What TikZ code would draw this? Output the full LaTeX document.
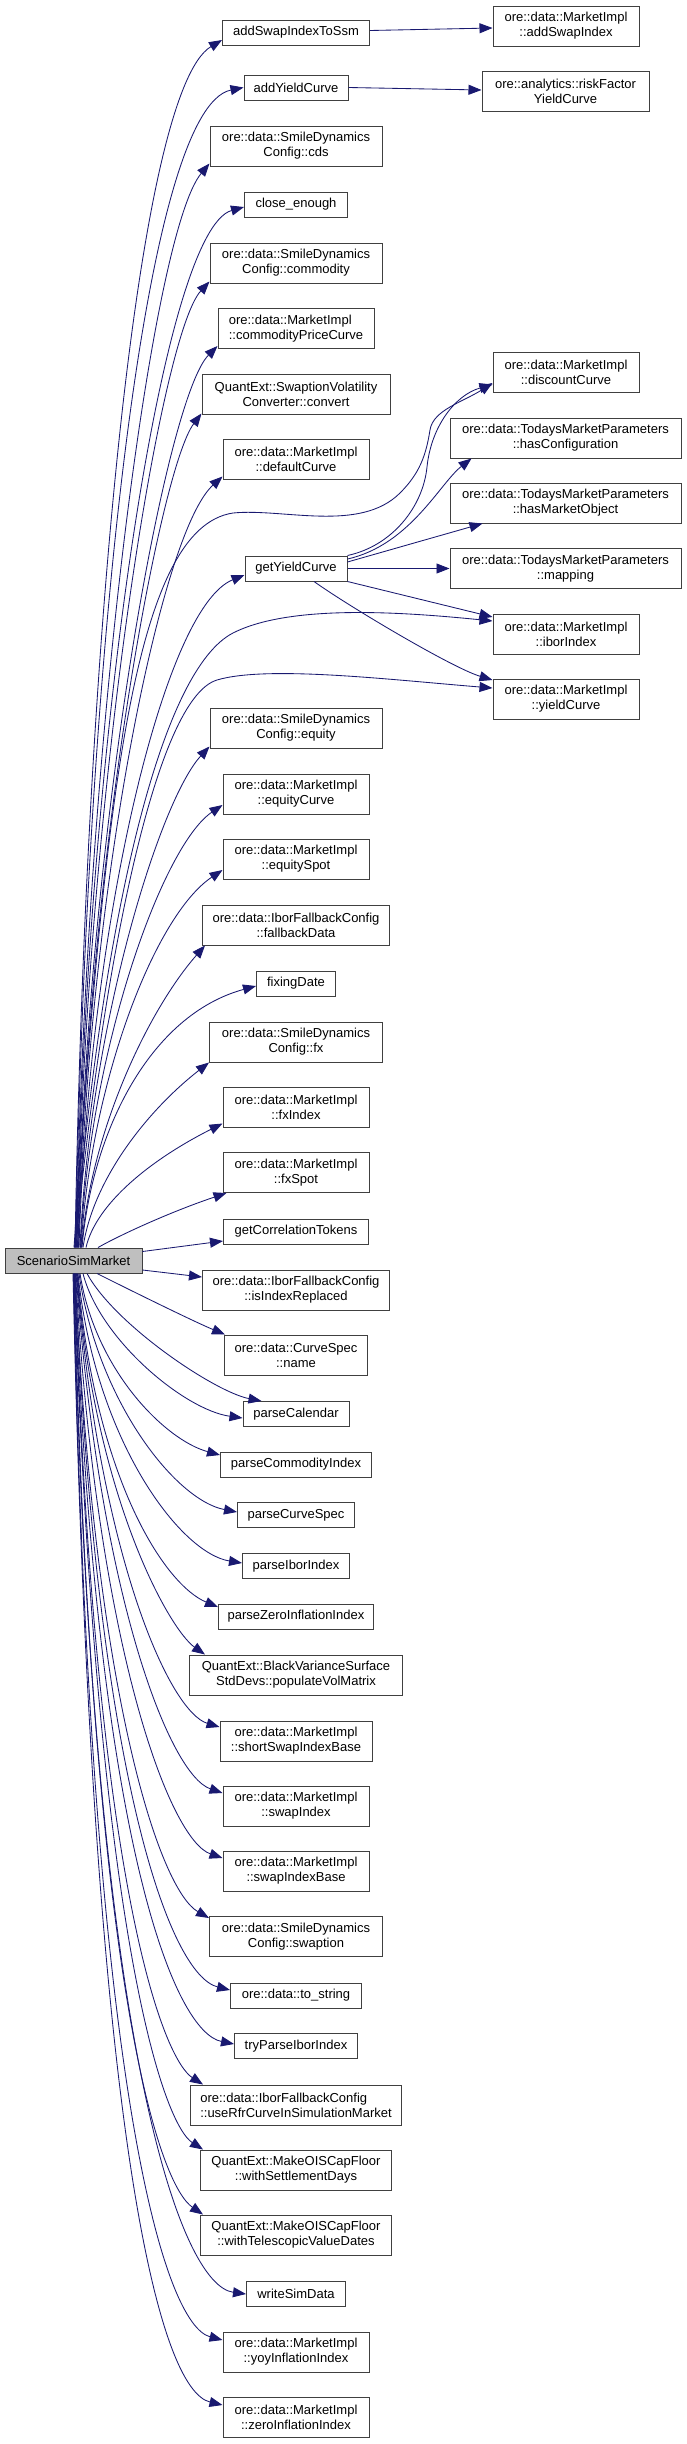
\documentclass[tikz,border=0pt]{standalone}
\usepackage{fontspec}
\setmainfont{Liberation Sans}
\usetikzlibrary{arrows.meta}
\definecolor{edgec}{HTML}{191970}
\definecolor{boxc}{HTML}{404040}
\definecolor{rootc}{HTML}{BFBFBF}
\begin{document}
\begin{tikzpicture}[x=1pt,y=-1pt,
  box/.style={draw=boxc, line width=1pt, fill=white, inner sep=0pt, minimum height=25pt, align=center, font=\fontsize{13}{15}\selectfont},
  two/.style={minimum height=40pt},
  edge/.style={draw=edgec, line width=0.85pt, -{Triangle[length=13pt,width=10pt]}}]
\useasboundingbox[fill=white] (0,0) rectangle (687,2444);

% root
\node[box, fill=rootc, minimum width=137pt] (ssm) at (73.5,1260.5) {ScenarioSimMarket};

% middle column
\node[box, minimum width=147pt] (a1) at (296,32.5) {addSwapIndexToSsm};
\node[box, minimum width=104pt] (a2) at (296,87.5) {addYieldCurve};
\node[box, two, minimum width=172pt] (a3) at (296,146) {ore::data::SmileDynamics\\Config::cds};
\node[box, minimum width=103pt] (a4) at (296,204.5) {close\_enough};
\node[box, two, minimum width=172pt] (a5) at (296,263) {ore::data::SmileDynamics\\Config::commodity};
\node[box, two, minimum width=156pt, align=left] (a6) at (296,328.5) {ore::data::MarketImpl\\::commodityPriceCurve};
\node[box, two, minimum width=188pt] (a7) at (296,394) {QuantExt::SwaptionVolatility\\Converter::convert};
\node[box, two, minimum width=146pt] (a8) at (296,459) {ore::data::MarketImpl\\::defaultCurve};
\node[box, minimum width=102pt] (a9) at (296,568.5) {getYieldCurve};
\node[box, two, minimum width=172pt] (a10) at (296,728) {ore::data::SmileDynamics\\Config::equity};
\node[box, two, minimum width=146pt] (a11) at (296,794) {ore::data::MarketImpl\\::equityCurve};
\node[box, two, minimum width=146pt] (a12) at (296,859) {ore::data::MarketImpl\\::equitySpot};
\node[box, two, minimum width=187pt] (a13) at (296,925) {ore::data::IborFallbackConfig\\::fallbackData};
\node[box, minimum width=79pt] (a14) at (296,983.5) {fixingDate};
\node[box, two, minimum width=173pt] (a15) at (296,1042) {ore::data::SmileDynamics\\Config::fx};
\node[box, two, minimum width=146pt] (a16) at (296,1107) {ore::data::MarketImpl\\::fxIndex};
\node[box, two, minimum width=146pt] (a17) at (296,1172.5) {ore::data::MarketImpl\\::fxSpot};
\node[box, minimum width=145pt] (a18) at (296,1231.5) {getCorrelationTokens};
\node[box, two, minimum width=187pt] (a19) at (296,1290) {ore::data::IborFallbackConfig\\::isIndexReplaced};
\node[box, two, minimum width=143pt] (a20) at (296,1355) {ore::data::CurveSpec\\::name};
\node[box, minimum width=106pt] (a21) at (296,1414) {parseCalendar};
\node[box, minimum width=151pt] (a22) at (296,1464.5) {parseCommodityIndex};
\node[box, minimum width=117pt] (a23) at (296,1515) {parseCurveSpec};
\node[box, minimum width=107pt] (a24) at (296,1566) {parseIborIndex};
\node[box, minimum width=155pt] (a25) at (296,1616.5) {parseZeroInflationIndex};
\node[box, two, minimum width=213pt] (a26) at (296,1675) {QuantExt::BlackVarianceSurface\\StdDevs::populateVolMatrix};
\node[box, two, minimum width=152pt] (a27) at (296,1741) {ore::data::MarketImpl\\::shortSwapIndexBase};
\node[box, two, minimum width=146pt] (a28) at (296,1806) {ore::data::MarketImpl\\::swapIndex};
\node[box, two, minimum width=146pt] (a29) at (296,1871) {ore::data::MarketImpl\\::swapIndexBase};
\node[box, two, minimum width=173pt] (a30) at (296,1936.5) {ore::data::SmileDynamics\\Config::swaption};
\node[box, minimum width=131pt] (a31) at (296,1995.5) {ore::data::to\_string};
\node[box, minimum width=123pt] (a32) at (296,2046) {tryParseIborIndex};
\node[box, two, minimum width=211pt, align=left] (a33) at (296,2105) {ore::data::IborFallbackConfig\\::useRfrCurveInSimulationMarket};
\node[box, two, minimum width=191pt] (a34) at (296,2170) {QuantExt::MakeOISCapFloor\\::withSettlementDays};
\node[box, two, minimum width=191pt] (a35) at (296,2235) {QuantExt::MakeOISCapFloor\\::withTelescopicValueDates};
\node[box, minimum width=99pt] (a36) at (296,2294) {writeSimData};
\node[box, two, minimum width=146pt] (a37) at (296,2352) {ore::data::MarketImpl\\::yoyInflationIndex};
\node[box, two, minimum width=146pt] (a38) at (296,2417.5) {ore::data::MarketImpl\\::zeroInflationIndex};

% right column
\node[box, two, minimum width=146pt] (b1) at (566,26) {ore::data::MarketImpl\\::addSwapIndex};
\node[box, two, minimum width=167pt] (b2) at (565.5,91) {ore::analytics::riskFactor\\YieldCurve};
\node[box, two, minimum width=146pt] (b3) at (566,372.5) {ore::data::MarketImpl\\::discountCurve};
\node[box, two, minimum width=231pt] (b4) at (565.5,438) {ore::data::TodaysMarketParameters\\::hasConfiguration};
\node[box, two, minimum width=231pt] (b5) at (565.5,503) {ore::data::TodaysMarketParameters\\::hasMarketObject};
\node[box, two, minimum width=231pt] (b6) at (565.5,568.5) {ore::data::TodaysMarketParameters\\::mapping};
\node[box, two, minimum width=146pt] (b7) at (566,634) {ore::data::MarketImpl\\::iborIndex};
\node[box, two, minimum width=146pt] (b8) at (566,699) {ore::data::MarketImpl\\::yieldCurve};

% second level edges
\draw[edge] ([yshift=2]a1.east) -- ([yshift=-2]b1.west);
\draw[edge] (a2.east) -- ([yshift=1]b2.west);
\draw[edge] (a9.north east) .. controls (392,546) and (423,507) .. (427,467) .. controls (431,427) and (455,395) .. ([yshift=-12]b3.west);
\draw[edge] ([yshift=9.5]a9.east) .. controls (410,545) and (440,483) .. ([xshift=22]b4.south west);
\draw[edge] ([yshift=6.5]a9.east) -- ([xshift=33]b5.south west);
\draw[edge] (a9.east) -- (b6.west);
\draw[edge] (a9.south east) -- ([yshift=17]b7.west);
\draw[edge] ([xshift=18]a9.south) .. controls +(35,25) and +(-40,-12) .. ([yshift=19]b8.west);

% root to upper targets
\draw[edge] ([xshift=1.5]ssm.north) .. controls (85,670) and (135,92) .. ([yshift=-7.5]a1.west);
\draw[edge] ([xshift=2]ssm.north) .. controls (86,678) and (142,108) .. (a2.west);
\draw[edge] ([xshift=2.5]ssm.north) .. controls (86,740) and (152,232) .. ([yshift=3]a3.south west);
\draw[edge] ([xshift=3]ssm.north) .. controls (87,739) and (162,230) .. ([yshift=-2.5]a4.west);
\draw[edge] ([xshift=3.5]ssm.north) .. controls (87,791) and (160,335) .. ([yshift=2]a5.south west);
\draw[edge] ([xshift=4]ssm.north) .. controls (88,823) and (166,398) .. ([yshift=3]a6.south west);
\draw[edge] ([xshift=4.5]ssm.north) .. controls (88,858) and (160,468) .. ([yshift=1]a7.south west);
\draw[edge] ([xshift=5]ssm.north) .. controls (89,890) and (160,533) .. ([yshift=3]a8.south west);
\draw[edge] ([xshift=0.5]ssm.north) .. controls (105,800) and (133,528) .. (233,513) .. controls (283,508) and (360,533) .. (400,493) .. controls (420,473) and (426,455) .. (430,430) .. controls (433,410) and (463,402) .. ([yshift=-10.5]b3.west);
\draw[edge] ([xshift=5.5]ssm.north) .. controls (89,928) and (163,608) .. ([yshift=-6.5]a9.west);
\draw[edge] ([xshift=1]ssm.north) .. controls (105,900) and (163,669) .. (233,633) .. controls (290,604) and (403,612) .. ([yshift=13]b7.west);
\draw[edge] ([xshift=1.5]ssm.north) .. controls (105,950) and (157,698) .. (217,680) .. controls (267,665) and (393,680) .. ([yshift=11]b8.west);
\draw[edge] ([xshift=6.5]ssm.north) .. controls (90,1024) and (160,800) .. ([yshift=2]a10.south west);
\draw[edge] ([xshift=7]ssm.north) .. controls (90,1046) and (163,845) .. ([yshift=-11]a11.west);
\draw[edge] ([xshift=7.5]ssm.north) .. controls (91,1081) and (155,915) .. ([yshift=-11]a12.west);
\draw[edge] ([xshift=8]ssm.north) .. controls (91,1128) and (150,1008) .. ([xshift=3]a13.south west);
\draw[edge] ([xshift=8.5]ssm.north) .. controls (92,1131) and (150,1015) .. ([yshift=-2.5]a14.west);
\draw[edge] ([xshift=9.5]ssm.north) .. controls (93,1179) and (148,1110) .. (a15.south west);
\draw[edge] ([xshift=12.5]ssm.north) .. controls (96,1204) and (150,1160) .. ([yshift=4]a16.south west);
\draw[edge] ([xshift=24.5]ssm.north) .. controls (120,1235) and (170,1212) .. ([xshift=4]a17.south west);
\draw[edge] ([yshift=9]ssm.east) -- ([yshift=-9.5]a18.west);
\draw[edge] ([yshift=-9.5]ssm.east) -- ([yshift=13]a19.west);

% root to lower targets
\draw[edge] ([xshift=23.5]ssm.south) .. controls (140,1295) and (195,1322) .. ([xshift=1]a20.north west);
\draw[edge] ([xshift=13.5]ssm.south) .. controls (115,1325) and (215,1392) .. ([xshift=19]a21.north west);
\draw[edge] ([xshift=9.5]ssm.south) .. controls (100,1340) and (185,1410) .. ([yshift=-4]a21.west);
\draw[edge] ([xshift=6.5]ssm.south) .. controls (95,1370) and (165,1440) .. ([yshift=9.5]a22.west);
\draw[edge] ([xshift=5.5]ssm.south) .. controls (97,1400) and (175,1500) .. ([yshift=3]a23.west);
\draw[edge] ([xshift=4.5]ssm.south) .. controls (95,1440) and (180,1553) .. ([yshift=3]a24.west);
\draw[edge] ([xshift=4]ssm.south) .. controls (95,1480) and (165,1585) .. ([yshift=9.5]a25.west);
\draw[edge] ([xshift=3.5]ssm.south) .. controls (95,1500) and (170,1630) .. ([xshift=16]a26.north west);
\draw[edge] ([xshift=3]ssm.south) .. controls (100,1560) and (170,1712) .. ([yshift=14]a27.west);
\draw[edge] ([xshift=2.5]ssm.south) .. controls (100,1600) and (170,1775) .. ([yshift=13]a28.west);
\draw[edge] ([xshift=2]ssm.south) .. controls (97,1650) and (170,1840) .. ([yshift=13]a29.west);
\draw[edge] ([xshift=1.5]ssm.south) .. controls (95,1700) and (160,1890) .. ([yshift=-2]a30.north west);
\draw[edge] ([xshift=1.5]ssm.south) .. controls (97,1780) and (170,1975) .. ([yshift=5.5]a31.west);
\draw[edge] ([xshift=1]ssm.south) .. controls (97,1850) and (175,2032) .. ([yshift=2]a32.west);
\draw[edge] ([xshift=1]ssm.south) .. controls (95,1900) and (165,2060) .. ([xshift=13]a33.north west);
\draw[edge] ([xshift=0.5]ssm.south) .. controls (97,1950) and (165,2125) .. ([xshift=3]a34.north west);
\draw[edge] ([xshift=0.5]ssm.south) .. controls (92,2000) and (160,2185) .. ([xshift=3]a35.north west);
\draw[edge] (ssm.south) .. controls (92,2050) and (180,2285) .. (a36.west);
\draw[edge] (ssm.south) .. controls (90,2100) and (165,2325) .. ([yshift=12]a37.west);
\draw[edge] ([xshift=-0.5]ssm.south) .. controls (92,2150) and (160,2390) .. ([yshift=12.5]a38.west);
\end{tikzpicture}
\end{document}
